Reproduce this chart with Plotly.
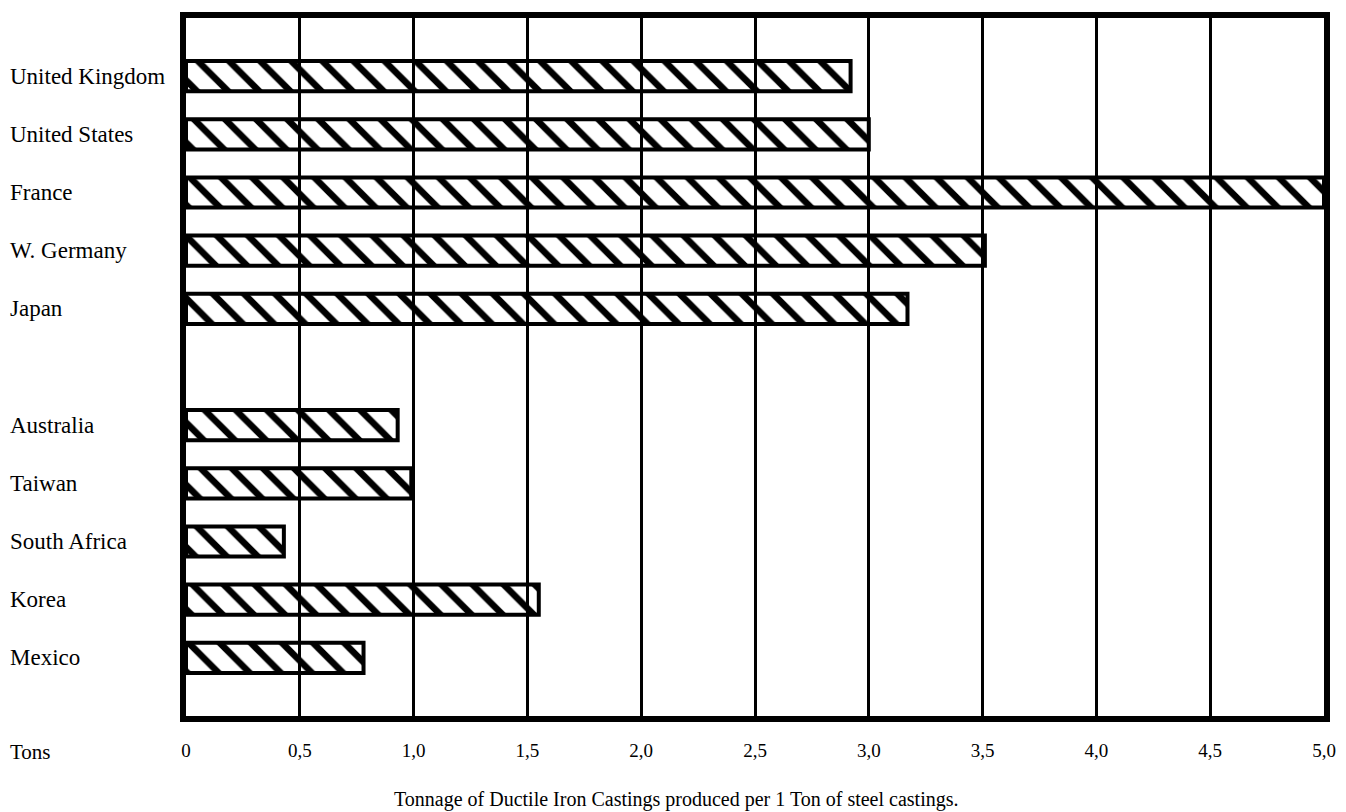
import plotly.graph_objects as go

# ---- data ----
group_a = ["United Kingdom", "United States", "France", "W. Germany", "Japan"]
values_a = [2.92, 3.0, 5.0, 3.51, 3.17]
group_b = ["Australia", "Taiwan", "South Africa", "Korea", "Mexico"]
values_b = [0.93, 0.99, 0.43, 1.55, 0.78]
tick_vals = [0, 0.5, 1.0, 1.5, 2.0, 2.5, 3.0, 3.5, 4.0, 4.5, 5.0]
tick_text = ["0", "0,5", "1,0", "1,5", "2,0", "2,5", "3,0", "3,5", "4,0", "4,5", "5,0"]
unit_label = "Tons"
caption = "Tonnage of Ductile Iron Castings produced per 1 Ton of steel castings."

countries = group_a + group_b
values = values_a + values_b
gap = " "
category_order = group_a + [gap] + group_b

FONT = "Liberation Serif"
OFF = 8  # page body margin
W, H = 1346 - OFF, 812 - OFF
ML, MT = 186 - OFF, 12 - OFF
plot_right, plot_bottom = 1324 - OFF, 716 - OFF
MR, MB = W - plot_right, H - plot_bottom
plot_w = plot_right - ML
plot_h = plot_bottom - MT


def px_to_paper_x(px):
    return (px - OFF - ML) / plot_w


def py_to_paper_y(py):
    return (plot_bottom - (py - OFF)) / plot_h


fig = go.Figure()
fig.add_trace(go.Bar(
    x=values, y=countries, orientation="h",
    width=0.52,
    marker=dict(
        color="black",
        line=dict(color="black", width=4),
        pattern=dict(shape="\\", fgcolor="black", size=22, solidity=0.3, fillmode="replace"),
    ),
    showlegend=False,
))

annotations = []
for c in countries:
    annotations.append(dict(
        x=px_to_paper_x(8), xref="paper", y=c, yref="y",
        text=c, showarrow=False, xanchor="left", yanchor="middle",
        font=dict(family=FONT, size=23, color="black"),
    ))
annotations.append(dict(
    x=px_to_paper_x(8), xref="paper", y=py_to_paper_y(752), yref="paper",
    text=unit_label, showarrow=False, xanchor="left", yanchor="middle",
    font=dict(family=FONT, size=21, color="black"),
))
annotations.append(dict(
    x=px_to_paper_x(676), xref="paper", y=py_to_paper_y(800), yref="paper",
    text=caption, showarrow=False, xanchor="center", yanchor="middle",
    font=dict(family=FONT, size=20, color="black"),
))

fig.update_layout(
    width=W, height=H,
    margin=dict(l=ML, r=MR, t=MT, b=MB),
    paper_bgcolor="white", plot_bgcolor="white",
    annotations=annotations,
    xaxis=dict(
        range=[0, 5.0], tickvals=tick_vals, ticktext=tick_text,
        showgrid=True, gridcolor="black", gridwidth=3,
        showline=True, linecolor="black", linewidth=6, mirror=True,
        ticks="outside", ticklen=12, tickcolor="rgba(0,0,0,0)",
        tickfont=dict(family=FONT, size=19, color="black"),
        zeroline=False, fixedrange=True,
    ),
    yaxis=dict(
        type="category", categoryorder="array", categoryarray=category_order,
        range=[len(category_order), -1],
        showticklabels=False, showgrid=False,
        showline=True, linecolor="black", linewidth=6, mirror=True,
        zeroline=False, fixedrange=True,
    ),
)

fig.write_html("out.html")
